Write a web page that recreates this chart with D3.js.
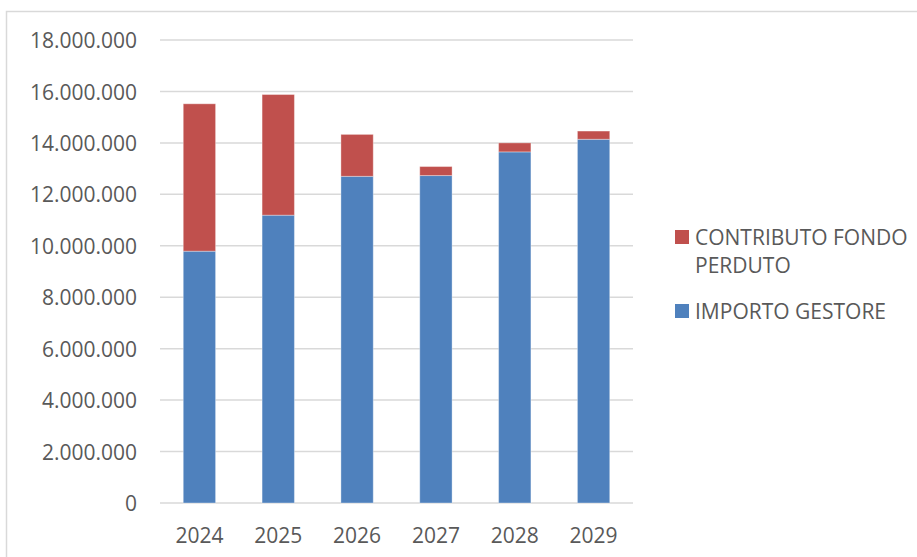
<!DOCTYPE html>
<html>
<head>
<meta charset="utf-8">
<style>
  body { margin: 0; background: #fff; }
  text { font-family: "Open Sans", sans-serif; fill: #595959; }
</style>
</head>
<body>
<div class="chartContainer"></div>

<script src="https://d3js.org/d3.v7.min.js"></script>
<script>
    // dati
    const years = ['2024', '2025', '2026', '2027', '2028', '2029'];
    const importoGestore = [9790000, 11190000, 12700000, 12730000, 13650000, 14140000];
    const contributoFondo = [5730000, 4690000, 1630000, 350000, 350000, 320000];
    const yTicks = [0, 2000000, 4000000, 6000000, 8000000, 10000000, 12000000, 14000000, 16000000, 18000000];
    const seriesNames = ['IMPORTO GESTORE', 'CONTRIBUTO FONDO PERDUTO'];
    const colors = ['#4f81bd', '#c0504d'];

    const W = 917, H = 557;
    const plot = {left: 160, right: 633, top: 40, bottom: 503};

    const svg = d3.select('.chartContainer')
                  .append('svg')
                  .attr('width', W)
                  .attr('height', H);

    // bordo del grafico
    svg.append('rect')
       .attr('x', 6.5).attr('y', 11.5)
       .attr('width', W + 20).attr('height', H + 20)
       .style('fill', 'none').style('stroke', '#d9d9d9').style('stroke-width', 1.5);

    const x = d3.scaleBand().domain(years).range([plot.left, plot.right]).paddingInner(0.59).paddingOuter(0.295);
    const y = d3.scaleLinear().domain([0, 18000000]).range([plot.bottom, plot.top]);

    const fmt = d => d3.format(',')(d).replace(/,/g, '.');

    // griglia
    svg.append('g')
       .selectAll('line')
       .data(yTicks)
       .enter()
       .append('line')
       .attr('x1', plot.left).attr('x2', plot.right)
       .attr('y1', d => y(d)).attr('y2', d => y(d))
       .style('stroke', '#d9d9d9').style('stroke-width', 1.5);

    // asse y
    const yAxis = svg.append('g')
       .attr('transform', `translate(${plot.left - 23},0)`)
       .call(d3.axisLeft(y).tickValues(yTicks).tickFormat(fmt).tickSize(0).tickPadding(0));
    yAxis.select('.domain').remove();
    yAxis.selectAll('text').style('font-size', '21px').style('fill', '#595959').attr('dy', '0.36em')
         .style('font-family', '"Open Sans", sans-serif');

    // asse x
    const xAxis = svg.append('g')
       .attr('transform', `translate(0,${plot.bottom})`)
       .call(d3.axisBottom(x).tickSize(0).tickPadding(0));
    xAxis.select('.domain').remove();
    xAxis.selectAll('text').style('font-size', '21px').style('fill', '#595959').attr('y', 40).attr('dy', 0)
         .style('font-family', '"Open Sans", sans-serif');

    // barre impilate
    const table = years.map((yr, i) => ({year: yr, gestore: importoGestore[i], fondo: contributoFondo[i]}));
    const stacked = d3.stack().keys(['gestore', 'fondo'])(table);

    svg.append('g')
       .selectAll('g')
       .data(stacked)
       .enter()
       .append('g')
       .style('fill', (d, i) => colors[i])
       .selectAll('rect')
       .data(d => d)
       .enter()
       .append('rect')
       .attr('x', d => x(d.data.year))
       .attr('width', x.bandwidth())
       .attr('y', d => y(d[1]))
       .attr('height', d => y(d[0]) - y(d[1]))
       .style('stroke', 'rgba(255,255,255,0.35)')
       .style('stroke-width', 1);

    // legenda
    const legend = svg.append('g');
    const legendItems = [
      {name: seriesNames[1], color: colors[1], lines: ['CONTRIBUTO FONDO', 'PERDUTO'], y: 230},
      {name: seriesNames[0], color: colors[0], lines: ['IMPORTO GESTORE'], y: 304}
    ];
    legendItems.forEach(it => {
      legend.append('rect').attr('x', 675).attr('y', it.y).attr('width', 14).attr('height', 14).style('fill', it.color);
      const t = legend.append('text').attr('x', 695).attr('y', it.y + 15).style('font-size', '21px');
      it.lines.forEach((l, j) => {
        t.append('tspan').attr('x', 695).attr('dy', j === 0 ? 0 : 28).text(l);
      });
    });
</script>
</body>
</html>
